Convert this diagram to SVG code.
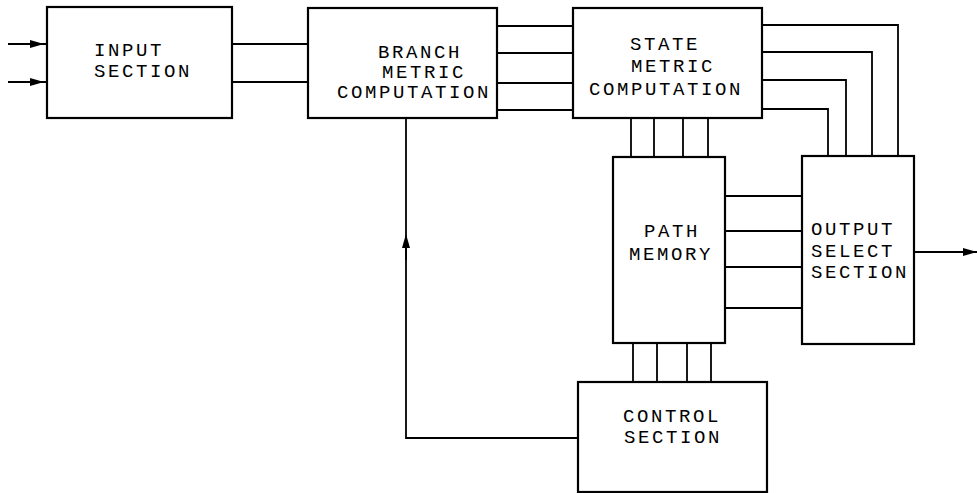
<svg xmlns="http://www.w3.org/2000/svg" width="978" height="493" viewBox="0 0 978 493">
<style>
.box{fill:none;stroke:#000;stroke-width:2.2}
.ln{fill:none;stroke:#000;stroke-width:1.8}
text{font-family:"Liberation Mono","Courier New",monospace;font-size:19px;letter-spacing:2.6px;fill:#000}
</style>
<defs>
<marker id="ah" viewBox="0 0 14 8" refX="14" refY="4" markerWidth="14" markerHeight="8" markerUnits="userSpaceOnUse" orient="auto">
<path d="M0,0 L14,4 L0,8 Z" fill="#000"/>
</marker>
<marker id="ahm" viewBox="0 0 14 8" refX="7" refY="4" markerWidth="14" markerHeight="8" markerUnits="userSpaceOnUse" orient="auto">
<path d="M0,0 L14,4 L0,8 Z" fill="#000"/>
</marker>
</defs>
<rect width="978" height="493" fill="#fff"/>
<g id="connectors">
<path class="ln" d="M8,44 H44" marker-end="url(#ah)"/>
<path class="ln" d="M8,82 H44" marker-end="url(#ah)"/>
<path class="ln" d="M44,44 H47 M44,82 H47"/>
<path class="ln" d="M232,44 H309 M232,82 H309"/>
<path class="ln" d="M497,26 H573 M497,53 H573 M497,83 H573 M497,110 H573"/>
<path class="ln" d="M762,25 H898 V156 M762,52 H872 V156 M762,80 H846 V156 M762,109 H828 V156"/>
<path class="ln" d="M631,118 V157 M654,118 V157 M683,118 V157 M708,118 V157"/>
<path class="ln" d="M725,196 H802 M725,231 H802 M725,267 H802 M725,308 H802"/>
<path class="ln" d="M633,343 V382 M657,343 V382 M687,343 V382 M711,343 V382"/>
<path class="ln" d="M578,438 H406 V118"/>
<path class="ln" d="M406,260 V241" marker-end="url(#ahm)"/>
<path class="ln" d="M914,252 H977" marker-end="url(#ah)"/>
</g>
<g id="input">
<rect class="box" x="47" y="7" width="185" height="111"/>
<text x="94" y="56">INPUT</text>
<text x="94" y="77">SECTION</text>
</g>
<g id="branch">
<rect class="box" x="308" y="8" width="189" height="110"/>
<text x="378" y="58">BRANCH</text>
<text x="382" y="78">METRIC</text>
<text x="337" y="98">COMPUTATION</text>
</g>
<g id="state">
<rect class="box" x="573" y="8" width="189" height="110"/>
<text x="630" y="50">STATE</text>
<text x="631" y="72">METRIC</text>
<text x="589" y="95">COMPUTATION</text>
</g>
<g id="path">
<rect class="box" x="613" y="157" width="112" height="186"/>
<text x="644" y="237">PATH</text>
<text x="629" y="260">MEMORY</text>
</g>
<g id="output">
<rect class="box" x="802" y="156" width="112" height="188"/>
<text x="811" y="235">OUTPUT</text>
<text x="811" y="257">SELECT</text>
<text x="811" y="278">SECTION</text>
</g>
<g id="control">
<rect class="box" x="578" y="382" width="189" height="110"/>
<text x="623" y="422">CONTROL</text>
<text x="624" y="443">SECTION</text>
</g>
</svg>
